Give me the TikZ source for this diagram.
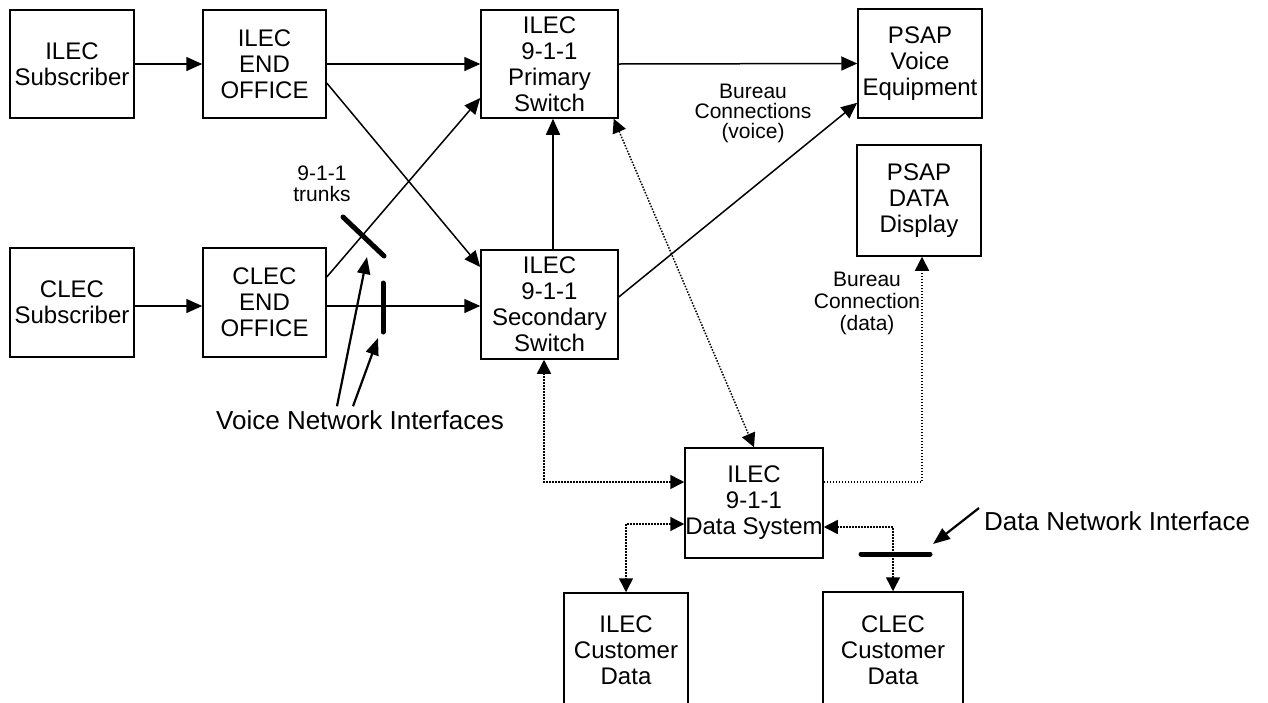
\documentclass[tikz,border=0pt]{standalone}
\usepackage{fontspec}
\setmainfont{Liberation Sans}
\usetikzlibrary{arrows.meta,calc}
\begin{document}
\begin{tikzpicture}[x=1pt,y=-1pt,
  box/.style={draw, line width=1.5pt, inner sep=0pt, align=center, font=\fontsize{24}{26}\selectfont},
  lbl/.style={align=center, inner sep=0pt, font=\fontsize{21}{21}\selectfont},
  biglbl/.style={inner sep=0pt, font=\fontsize{26}{28}\selectfont},
  conn/.style={line width=1.5pt, -{Triangle[length=16pt,width=14pt]}},
  dotc/.style={line width=1.5pt, dash pattern=on 1.5pt off 1.5pt},
  bar/.style={line width=5pt, line cap=round},
  pointer/.style={line width=2.2pt, -{Triangle[length=17pt,width=13pt]}}
]
\useasboundingbox (0,0) rectangle (1268,702);
\clip (0,0) rectangle (1268,702);

% boxes
\node[box, minimum width=124pt, minimum height=108pt] (isub) at (72,64) {ILEC\\Subscriber};
\node[box, minimum width=123pt, minimum height=108pt] (ieo) at (264.5,64) {ILEC\\END\\OFFICE};
\node[box, minimum width=137pt, minimum height=108pt] (prim) at (549.5,64) {ILEC\\9-1-1\\Primary\\Switch};
\node[box, minimum width=124pt, minimum height=109pt] (pv) at (920,63.5) {PSAP\\Voice\\Equipment};
\node[box, minimum width=124pt, minimum height=111pt] (pd) at (919,200.5) {PSAP\\DATA\\Display};
\node[box, minimum width=124pt, minimum height=109pt] (csub) at (72,302.5) {CLEC\\Subscriber};
\node[box, minimum width=123pt, minimum height=109pt] (ceo) at (264.5,302.5) {CLEC\\END\\OFFICE};
\node[box, minimum width=137pt, minimum height=109pt] (sec) at (549.5,304.5) {ILEC\\9-1-1\\Secondary\\Switch};
\node[box, minimum width=138pt, minimum height=110pt] (ds) at (754,503) {ILEC\\9-1-1\\Data System};
\node[box, minimum width=124pt, minimum height=114pt] (icd) at (626,650) {ILEC\\Customer\\Data};
\node[box, minimum width=140pt, minimum height=116pt] (ccd) at (893,650) {CLEC\\Customer\\Data};

% voice connections
\coordinate (ceoR) at ($(ceo.east)+(0,3.5)$);
\coordinate (csubR) at ($(csub.east)+(0,3.5)$);
\draw[conn] (isub.east) -- (ieo.west);
\draw[conn] (csubR) -- (csubR -| ceo.west);
\draw[conn] (ieo.east) -- (prim.west);
\draw[conn] ($(ieo.east)+(0,19)$) -- ($(sec.west)+(0,-37.5)$);
\draw[conn] ($(ceo.east)+(0,-25.5)$) -- ($(prim.west)+(0,34)$);
\draw[conn] (ceoR) -- (ceoR -| sec.west);
\draw[conn] ($(sec.north)+(3.5,0)$) -- ($(prim.south)+(3.5,0)$);
\draw[conn] (prim.east) -- (pv.west);
\draw[conn] ($(sec.east)+(0,-7.5)$) -- ($(pv.south west)+(0,-16)$);

% data connections
\draw[dotc, {Triangle[length=14pt,width=14pt]}-{Triangle[length=14pt,width=14pt]}] ($(prim.south east)+(-5,0)$) -- (ds.north);
\draw[dotc, {Triangle[length=14pt,width=14pt]}-{Triangle[length=14pt,width=14pt]}] ($(sec.south)+(-5.5,0)$) |- ($(ds.west)+(0,-21)$);
\draw[dotc, {Triangle[length=14pt,width=14pt]}-{Triangle[length=14pt,width=14pt]}] ($(ds.west)+(0,21)$) -| (icd.north);
\draw[dotc, -{Triangle[length=14pt,width=14pt]}] ($(ds.east)+(0,-21)$) -| ($(pd.south)+(3,0)$);
\draw[dotc, {Triangle[length=14pt,width=14pt]}-{Triangle[length=14pt,width=14pt]}] ($(ds.east)+(0,24)$) -| (ccd.north);

% interface bars
\coordinate (b1a) at (343,217);
\coordinate (b1b) at (384,256);
\coordinate (b2a) at (383,283);
\coordinate (b2b) at (383,332);
\coordinate (b3a) at (861,554);
\coordinate (b3b) at (930,554);
\draw[bar] (b1a) -- (b1b);
\draw[bar] (b2a) -- (b2b);
\draw[bar] (b3a) -- (b3b);

% labels
\node[lbl] (trunks) at (322,184) {9-1-1\\trunks};
\node[lbl, font=\fontsize{21}{20}\selectfont] (bvoice) at (753,113) {Bureau\\Connections\\(voice)};
\node[lbl, font=\fontsize{21}{22}\selectfont] (bdata) at (867,303) {Bureau\\Connection\\(data)};
\node[biglbl] (vni) at (360,420) {Voice Network Interfaces};
\node[biglbl, anchor=west] (dni) at (984,521) {Data Network Interface};

% pointers
\coordinate (p1) at (367,257);
\coordinate (p2) at (378,338);
\coordinate (p3) at (933,544);
\draw[pointer] ($(vni.north)+(-23,-4)$) -- (p1);
\draw[pointer] ($(vni.north)+(-7,-4)$) -- (p2);
\draw[pointer] ($(dni.west)+(-5,-13)$) -- (p3);
\end{tikzpicture}
\end{document}
